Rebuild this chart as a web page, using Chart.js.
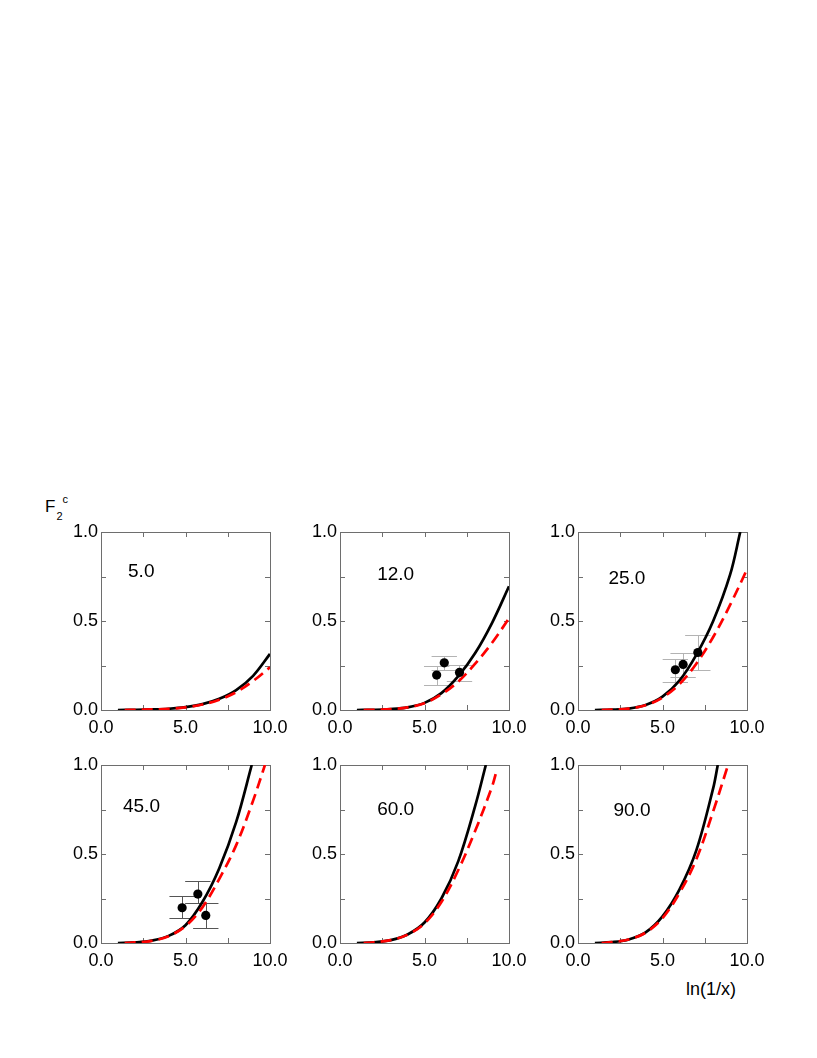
<!DOCTYPE html>
<html>
<head>
<meta charset="utf-8">
<script src="https://cdn.jsdelivr.net/npm/chart.js@4/dist/chart.umd.min.js"></script>
<style>
  html, body { margin: 0; padding: 0; background: #fff; }
  #page { position: relative; width: 817px; height: 1058px; overflow: hidden; font-family: "Liberation Sans", Arial, sans-serif; color: #000; }
  .cv { position: absolute; }
  .txt { position: absolute; white-space: nowrap; }
</style>
</head>
<body>
<div id="page">
  <span class="txt" style="left:45px; top:498px; font-size:17px; line-height:17px;">F</span>
  <span class="txt" style="left:56.5px; top:510.7px; font-size:11px; line-height:11px;">2</span>
  <span class="txt" style="left:62.5px; top:494px; font-size:11px; line-height:11px;">c</span>
  <span class="txt" style="left:686px; top:979.5px; font-size:18px; line-height:18px;">ln(1/x)</span>
</div>
<script>
// ---------------- data ----------------
const panelTitles = ["5.0", "12.0", "25.0", "45.0", "60.0", "90.0"];
const xTickLabels = ["0.0", "5.0", "10.0"];
const yTickLabels = ["0.0", "0.5", "1.0"];

// Q2 = 5.0
const q5BlackX = [1, 2, 3, 4, 5, 6, 7, 8, 9, 10];
const q5BlackY = [0, 0.001, 0.003, 0.007, 0.016, 0.033, 0.063, 0.112, 0.192, 0.315];
const q5RedX   = [1.4, 2, 3, 4, 5, 6, 7, 8, 9, 10];
const q5RedY   = [0, 0.001, 0.003, 0.007, 0.015, 0.031, 0.058, 0.1, 0.163, 0.24];

// Q2 = 12.0
const q12BlackX = [1, 2, 3, 4, 5, 6, 7, 8, 9, 10];
const q12BlackY = [0, 0.001, 0.005, 0.015, 0.04, 0.095, 0.19, 0.32, 0.49, 0.695];
const q12RedX   = [1.4, 2, 3, 4, 5, 6, 7, 8, 9, 10];
const q12RedY   = [0, 0.001, 0.005, 0.015, 0.038, 0.088, 0.16, 0.26, 0.378, 0.515];
const q12DataX  = [5.72, 6.17, 7.07];
const q12DataY  = [0.196, 0.265, 0.211];
const q12DataLo = [0.138, 0.226, 0.163];
const q12DataHi = [0.248, 0.301, 0.255];

// Q2 = 25.0
const q25BlackX = [1, 2, 3, 4, 5, 6, 7, 8, 9, 9.6];
const q25BlackY = [0, 0.002, 0.008, 0.028, 0.075, 0.165, 0.31, 0.5, 0.76, 1.0];
const q25RedX   = [1.4, 2, 3, 4, 5, 6, 7, 8, 9, 10];
const q25RedY   = [0, 0.002, 0.008, 0.027, 0.07, 0.145, 0.26, 0.41, 0.59, 0.79];
const q25DataX  = [5.76, 6.22, 7.09];
const q25DataY  = [0.226, 0.256, 0.323];
const q25DataLo = [0.157, 0.186, 0.224];
const q25DataHi = [0.288, 0.321, 0.422];

// Q2 = 45.0
const q45BlackX = [1, 2, 3, 4, 5, 6, 7, 8, 8.92];
const q45BlackY = [0, 0.003, 0.013, 0.04, 0.1, 0.23, 0.42, 0.68, 1.0];
const q45RedX   = [1.4, 2, 3, 4, 5, 6, 7, 8, 9, 9.7];
const q45RedY   = [0, 0.003, 0.012, 0.038, 0.095, 0.2, 0.36, 0.55, 0.8, 1.0];
const q45DataX  = [4.80, 5.73, 6.20];
const q45DataY  = [0.198, 0.275, 0.155];
const q45DataLo = [0.139, 0.226, 0.082];
const q45DataHi = [0.265, 0.348, 0.226];

// Q2 = 60.0
const q60BlackX = [1, 2, 3, 4, 5, 6, 7, 8, 8.63];
const q60BlackY = [0, 0.004, 0.016, 0.048, 0.115, 0.25, 0.46, 0.77, 1.0];
const q60RedX   = [1.4, 2, 3, 4, 5, 6, 7, 8, 9, 9.3];
const q60RedY   = [0, 0.004, 0.016, 0.047, 0.11, 0.23, 0.41, 0.63, 0.88, 0.98];

// Q2 = 90.0
const q90BlackX = [1, 2, 3, 4, 5, 6, 7, 8, 8.27];
const q90BlackY = [0, 0.005, 0.02, 0.06, 0.15, 0.3, 0.52, 0.87, 1.0];
const q90RedX   = [1.4, 2, 3, 4, 5, 6, 7, 8, 8.88];
const q90RedY   = [0, 0.005, 0.02, 0.058, 0.14, 0.28, 0.47, 0.74, 1.0];

// ---------------- layout / style ----------------
const colLeft = [101, 340, 578];
const rowTop = [532, 765];
const plotW = 169, plotH = 178;
const padL = 62, padR = 22, padT = 14, padB = 34;
const FONT = '"Liberation Sans", Arial, sans-serif';
const titlePos = [
  { x: 1.6, y: 0.774 }, { x: 2.2, y: 0.757 }, { x: 1.8, y: 0.74 },
  { x: 1.3, y: 0.768 }, { x: 2.2, y: 0.75 }, { x: 2.1, y: 0.745 }
];
const errColors = [null, '#b3b3b3', '#b3b3b3', '#555555', null, null];

function zip(xs, ys) { return xs.map((x, i) => ({ x: x, y: ys[i] })); }

const panels = [
  { black: zip(q5BlackX, q5BlackY), red: zip(q5RedX, q5RedY) },
  { black: zip(q12BlackX, q12BlackY), red: zip(q12RedX, q12RedY), pts: zip(q12DataX, q12DataY), lo: q12DataLo, hi: q12DataHi },
  { black: zip(q25BlackX, q25BlackY), red: zip(q25RedX, q25RedY), pts: zip(q25DataX, q25DataY), lo: q25DataLo, hi: q25DataHi },
  { black: zip(q45BlackX, q45BlackY), red: zip(q45RedX, q45RedY), pts: zip(q45DataX, q45DataY), lo: q45DataLo, hi: q45DataHi },
  { black: zip(q60BlackX, q60BlackY), red: zip(q60RedX, q60RedY) },
  { black: zip(q90BlackX, q90BlackY), red: zip(q90RedX, q90RedY) }
];

const framePlugin = {
  id: 'frameTicks',
  beforeDatasetsDraw(chart, args, opts) {
    const ctx = chart.ctx, a = chart.chartArea;
    const xs = chart.scales.x, ys = chart.scales.y;
    ctx.save();
    ctx.strokeStyle = '#6e6e6e';
    ctx.lineWidth = 1;
    ctx.strokeRect(Math.round(a.left) + 0.5, Math.round(a.top) + 0.5, Math.round(a.right - a.left), Math.round(a.bottom - a.top));
    const tl = 5;
    ctx.beginPath();
    xs.ticks.forEach(t => {
      const px = Math.round(xs.getPixelForValue(t.value)) + 0.5;
      ctx.moveTo(px, a.bottom); ctx.lineTo(px, a.bottom - tl);
      ctx.moveTo(px, a.top); ctx.lineTo(px, a.top + tl);
    });
    ys.ticks.forEach(t => {
      const py = Math.round(ys.getPixelForValue(t.value)) + 0.5;
      ctx.moveTo(a.left, py); ctx.lineTo(a.left + tl, py);
      ctx.moveTo(a.right, py); ctx.lineTo(a.right - tl, py);
    });
    ctx.stroke();
    // error bars
    const eb = opts.err;
    if (eb && eb.pts) {
      ctx.strokeStyle = eb.color;
      ctx.lineWidth = 1;
      ctx.beginPath();
      eb.pts.forEach((p, i) => {
        const px = Math.round(xs.getPixelForValue(p.x)) + 0.5;
        const pLo = Math.round(ys.getPixelForValue(eb.lo[i])) + 0.5;
        const pHi = Math.round(ys.getPixelForValue(eb.hi[i])) + 0.5;
        const c0 = xs.getPixelForValue(p.x - eb.cap), c1 = xs.getPixelForValue(p.x + eb.cap);
        ctx.moveTo(px, pLo); ctx.lineTo(px, pHi);
        ctx.moveTo(c0, pLo); ctx.lineTo(c1, pLo);
        ctx.moveTo(c0, pHi); ctx.lineTo(c1, pHi);
      });
      ctx.stroke();
    }
    // panel title
    ctx.fillStyle = '#000';
    ctx.font = '19px ' + FONT;
    ctx.textAlign = 'left';
    ctx.textBaseline = 'middle';
    ctx.fillText(opts.title, xs.getPixelForValue(opts.tx), ys.getPixelForValue(opts.ty));
    ctx.restore();
  }
};

panels.forEach((p, i) => {
  const col = i % 3, row = Math.floor(i / 3);
  const cv = document.createElement('canvas');
  cv.className = 'cv';
  const W = padL + plotW + padR, H = padT + plotH + padB;
  cv.width = W; cv.height = H;
  cv.style.width = W + 'px'; cv.style.height = H + 'px';
  cv.style.left = (colLeft[col] - padL) + 'px';
  cv.style.top = (rowTop[row] - padT) + 'px';
  document.getElementById('page').appendChild(cv);

  const datasets = [];
  if (p.pts) {
    datasets.push({ data: p.pts, showLine: false, pointRadius: 4.6, pointBackgroundColor: '#000', pointBorderColor: '#000', pointBorderWidth: 0 });
  }
  datasets.push({ data: p.red, showLine: true, borderColor: '#ff0000', borderWidth: 2.7, borderDash: [11, 6], pointRadius: 0, tension: 0.35, fill: false });
  datasets.push({ data: p.black, showLine: true, borderColor: '#000000', borderWidth: 2.7, pointRadius: 0, tension: 0.35, fill: false });

  new Chart(cv, {
    type: 'scatter',
    data: { datasets: datasets },
    options: {
      responsive: false,
      animation: false,
      devicePixelRatio: 1,
      layout: { padding: { left: 0, right: padR, top: padT, bottom: 0 } },
      plugins: {
        legend: { display: false },
        tooltip: { enabled: false },
        frameTicks: {
          title: panelTitles[i], tx: titlePos[i].x, ty: titlePos[i].y,
          err: p.pts ? { pts: p.pts, lo: p.lo, hi: p.hi, color: errColors[i], cap: 0.75 } : null
        }
      },
      scales: {
        x: {
          type: 'linear', min: 0, max: 10,
          grid: { display: false, drawTicks: false },
          border: { display: false },
          ticks: {
            stepSize: 2.5, maxRotation: 0, autoSkip: false, padding: 7,
            color: '#000', font: { family: FONT, size: 18 },
            callback: (v) => (v % 5 === 0 ? xTickLabels[v / 5] : '')
          },
          afterFit: (s) => { s.height = padB; s.paddingLeft = 0; s.paddingRight = 0; }
        },
        y: {
          type: 'linear', min: 0, max: 1,
          grid: { display: false, drawTicks: false },
          border: { display: false },
          ticks: {
            stepSize: 0.25, autoSkip: false, padding: 3,
            color: '#000', font: { family: FONT, size: 18 },
            callback: (v) => (Math.abs(v * 2 - Math.round(v * 2)) < 1e-9 ? yTickLabels[Math.round(v * 2)] : '')
          },
          afterFit: (s) => { s.width = padL; s.paddingTop = 0; s.paddingBottom = 0; }
        }
      }
    },
    plugins: [framePlugin]
  });
});
</script>
</body>
</html>
